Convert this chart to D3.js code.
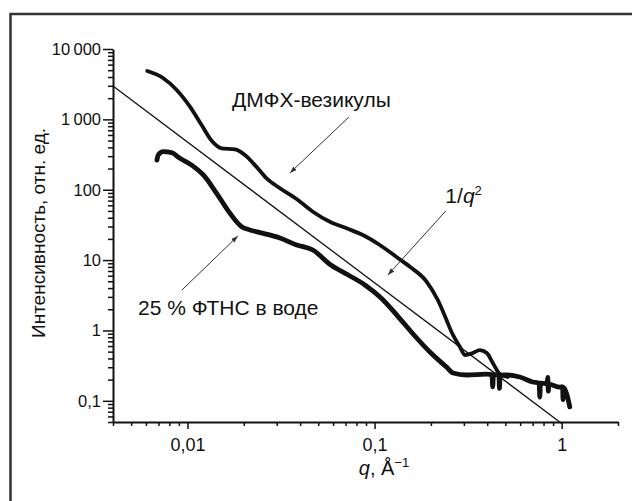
<!DOCTYPE html>
<html><head><meta charset="utf-8">
<script src="https://cdn.jsdelivr.net/npm/d3@7"></script>
<style>
html,body{margin:0;padding:0;background:#fff;}
svg{display:block;font-family:"Liberation Sans",Arial,Helvetica,sans-serif;}
</style>
</head><body><div id="chart"></div>
<script>
// ДМФХ-везикулы
const vesQ = [0.0061,0.0074,0.00876,0.01031,0.0119,0.01347,0.01523,0.01794,0.02028,0.02294,0.02649,0.0312,0.0383,0.0468,0.0577,0.0709,0.0866,0.1067,0.131,0.1544,0.1896,0.2178,0.2424,0.2578,0.2856,0.3037,0.335,0.365,0.398,0.4285,0.467,0.515];
const vesI = [4860,3870,2614,1514,831,497,388,375,312,224,145,105,73.8,48.7,35.1,28.3,22.7,16.4,11.06,8.05,4.96,2.71,1.41,0.95,0.587,0.448,0.478,0.527,0.478,0.345,0.24,0.218];
// 25 % ФТНС в воде
const ftnsQ = [0.00687,0.00698,0.00743,0.00823,0.00912,0.01053,0.01215,0.01432,0.01687,0.01948,0.02158,0.0254,0.0312,0.0383,0.0468,0.0584,0.072,0.0888,0.1087,0.1332,0.1642,0.2,0.2424,0.263,0.31,0.3966,0.424,0.428,0.432,0.462,0.465,0.469,0.507,0.597,0.701,0.758,0.764,0.77,0.835,0.843,0.848,0.855,0.977,1.012,1.017,1.022,1.061,1.105];
const ftnsI = [264,312,347,336,280,224,162,88.9,46.2,29.8,26.8,24.0,20.6,16.4,13.9,8.51,6.19,4.43,2.87,1.59,0.834,0.478,0.302,0.248,0.2326,0.24,0.236,0.158,0.235,0.233,0.15,0.232,0.233,0.218,0.185,0.178,0.113,0.178,0.176,0.215,0.137,0.172,0.157,0.158,0.104,0.155,0.128,0.082];
// reference 1/q^2 line endpoints
const refQ = [0.004, 1];
const refI = [2970, 0.0476];

const xTickValues = [0.01, 0.1, 1];
const xTickLabels = ["0,01", "0,1", "1"];
const xMinorTicks = [0.004,0.005,0.006,0.007,0.008,0.009,0.02,0.03,0.04,0.05,0.06,0.07,0.08,0.09,0.2,0.3,0.4,0.5,0.6,0.7,0.8,0.9,2];
const yTickValues = [0.1, 1, 10, 100, 1000, 10000];
const yTickLabels = ["0,1", "1", "10", "100", "1\u2009000", "10\u2009000"];
const yMinorTicks = [0.05,0.06,0.07,0.08,0.09,0.2,0.3,0.4,0.5,0.6,0.7,0.8,0.9,2,3,4,5,6,7,8,9,20,30,40,50,60,70,80,90,200,300,400,500,600,700,800,900,2000,3000,4000,5000,6000,7000,8000,9000];

const labelTexts = ["ДМФХ-везикулы", "25 % ФТНС в воде"];
const labelQ = [0.0173, 0.00544];
const labelI = [1498, 1.66];
const qLabelQ = 0.239, qLabelI = 64.8;
const arrowFromQ = [0.0729, 0.00935, 0.240];
const arrowFromI = [1080, 3.76, 49.8];
const arrowToQ = [0.0353, 0.0186, 0.1178];
const arrowToI = [173, 22, 6.14];

const W = 632, H = 501;
const svg = d3.select("#chart").append("svg").attr("width", W).attr("height", H);

// outer frame (cropped at right/bottom)
svg.append("rect").attr("x", 10.5).attr("y", 14).attr("width", 700).attr("height", 600)
  .attr("fill", "none").attr("stroke", "#333").attr("stroke-width", 2.5);

const x = d3.scaleLog().domain([0.004, 2]).range([113, 618]);
const y = d3.scaleLog().domain([0.05, 10000]).range([422, 49]);

// axes
const gxMinor = svg.append("g").attr("transform", `translate(0,${y(0.05)})`)
  .call(d3.axisBottom(x).tickValues(xMinorTicks).tickSize(4).tickFormat(""));
const gx = svg.append("g").attr("transform", `translate(0,${y(0.05)})`)
  .call(d3.axisBottom(x).tickValues(xTickValues).tickSize(7).tickSizeOuter(0)
    .tickFormat((d, i) => xTickLabels[i]));
gx.selectAll("text").attr("font-size", 18).attr("fill", "#111").attr("dy", "1.05em")
  .attr("font-family", '"Liberation Sans",Arial,sans-serif');

const gyMinor = svg.append("g").attr("transform", `translate(${x(0.004)},0)`)
  .call(d3.axisLeft(y).tickValues(yMinorTicks).tickSize(5).tickFormat(""));
const gy = svg.append("g").attr("transform", `translate(${x(0.004)},0)`)
  .call(d3.axisLeft(y).tickValues(yTickValues).tickSize(10).tickSizeOuter(0).tickPadding(2)
    .tickFormat((d, i) => yTickLabels[i]));
gy.selectAll("text").attr("font-size", 16.5).attr("fill", "#111")
  .attr("font-family", '"Liberation Sans",Arial,sans-serif');

svg.selectAll(".domain").attr("stroke", "#111").attr("stroke-width", 2);
svg.selectAll(".tick line").attr("stroke", "#111").attr("stroke-width", 1.5);
gxMinor.select(".domain").remove();
gyMinor.select(".domain").remove();

// reference line
svg.append("line")
  .attr("x1", x(refQ[0])).attr("y1", y(refI[0]))
  .attr("x2", x(refQ[1])).attr("y2", y(refI[1]))
  .attr("stroke", "#111").attr("stroke-width", 1.3);

const line = d3.line().x(d => x(d[0])).y(d => y(d[1])).curve(d3.curveMonotoneX);
svg.append("path").datum(vesQ.map((q, i) => [q, vesI[i]]))
  .attr("d", line).attr("fill", "none").attr("stroke", "#111")
  .attr("stroke-width", 3.8).attr("stroke-linecap", "round").attr("stroke-linejoin", "round");
svg.append("path").datum(ftnsQ.map((q, i) => [q, ftnsI[i]]))
  .attr("d", line).attr("fill", "none").attr("stroke", "#111")
  .attr("stroke-width", 4.8).attr("stroke-linecap", "round").attr("stroke-linejoin", "round");

// arrows
svg.append("defs").append("marker").attr("id", "ah").attr("viewBox", "0 0 10 10")
  .attr("refX", 10).attr("refY", 5).attr("markerWidth", 7).attr("markerHeight", 7)
  .attr("markerUnits", "userSpaceOnUse").attr("orient", "auto")
  .append("path").attr("d", "M0,1.5 L10,5 L0,8.5 Z").attr("fill", "#333");
arrowFromQ.forEach((q, i) => {
  svg.append("line")
    .attr("x1", x(q)).attr("y1", y(arrowFromI[i]))
    .attr("x2", x(arrowToQ[i])).attr("y2", y(arrowToI[i]))
    .attr("stroke", "#333").attr("stroke-width", 1).attr("marker-end", "url(#ah)");
});

// labels
labelTexts.forEach((t, i) => {
  svg.append("text").attr("x", x(labelQ[i])).attr("y", y(labelI[i]))
    .attr("font-size", 21).attr("fill", "#111").text(t);
});
const qt = svg.append("text").attr("x", x(qLabelQ)).attr("y", y(qLabelI))
  .attr("font-size", 21).attr("fill", "#111");
qt.append("tspan").text("1/");
qt.append("tspan").attr("font-style", "italic").text("q");
qt.append("tspan").attr("font-size", 13).attr("dy", -8).text("2");

// axis titles
const xt = svg.append("text").attr("x", 384).attr("y", 475).attr("text-anchor", "middle")
  .attr("font-size", 20).attr("fill", "#111");
xt.append("tspan").attr("font-style", "italic").text("q");
xt.append("tspan").text(", Å");
xt.append("tspan").attr("font-size", 13).attr("dy", -8).text("\u22121");

svg.append("text").attr("transform", "translate(45,233) rotate(-90)")
  .attr("text-anchor", "middle").attr("font-size", 19).attr("fill", "#111")
  .text("Интенсивность, отн. ед.");
</script>
</body></html>
